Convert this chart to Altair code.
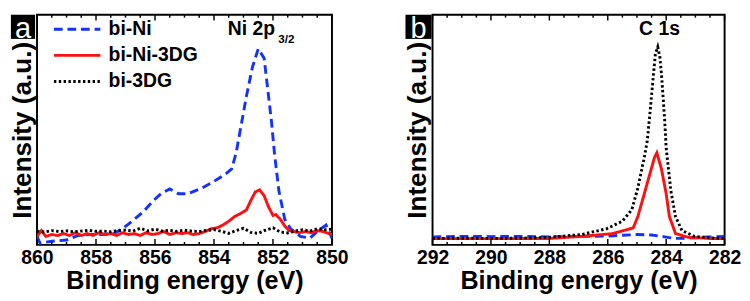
import altair as alt
import pandas as pd

FONT = "Liberation Sans"
SERIES = ["bi-Ni", "bi-Ni-3DG", "bi-3DG"]
COLORS = ["#1432ff", "#ff1010", "#000000"]
DASHES = [[9, 5], [1, 0], [2.5, 2.5]]

# ---------------- panel a : Ni 2p3/2 ----------------
a_ni_E = [860.0, 859.9, 859.5, 859.0, 858.6, 858.2, 857.8, 857.4, 857.1, 856.7, 856.4, 856.05,
          855.8, 855.5, 855.2, 854.9, 854.4, 854.0, 853.6, 853.4, 853.25, 852.9, 852.7, 852.5,
          852.3, 852.05, 851.95, 851.8, 851.6, 851.4, 851.07, 850.75, 850.5, 850.2, 850.0]
a_ni_I = [3.7, 0.8, 1.6, 2.1, 4.1, 4.5, 4.5, 4.9, 7.0, 11.1, 14.4, 19.3,
          22.2, 24.3, 22.2, 22.2, 24.7, 27.6, 30.9, 33.0, 39.9, 64.6, 77.0, 85.2,
          81.1, 53.5, 39.9, 23.5, 11.1, 7.0, 3.7, 2.9, 5.8, 8.6, 2.9]

a_ni3dg_E = [860.0, 859.85, 859.7, 859.5, 859.3, 859.1, 858.9, 858.7, 858.5, 858.3, 858.1, 857.9,
             857.7, 857.5, 857.3, 857.1, 856.9, 856.7, 856.5, 856.3, 856.1, 855.9, 855.7, 855.5,
             855.3, 855.1, 854.9, 854.7, 854.5, 854.3, 854.1, 853.9, 853.7, 853.5, 853.3, 853.1,
             852.9, 852.75, 852.6, 852.45, 852.3, 852.15, 852.0, 851.9, 851.75, 851.6, 851.45,
             851.3, 851.1, 850.9, 850.7, 850.5, 850.3, 850.1, 850.0]
a_ni3dg_I = [3.7, 6.2, 3.7, 4.5, 4.1, 4.9, 4.1, 5.3, 4.1, 4.9, 4.1, 5.3,
             4.5, 4.9, 4.1, 5.3, 4.5, 4.9, 4.1, 5.3, 4.5, 4.9, 5.8, 4.5,
             5.3, 4.9, 5.3, 4.5, 4.9, 5.8, 7.0, 7.4, 8.6, 10.3, 12.3, 13.6,
             15.2, 19.3, 23.0, 23.9, 21.4, 16.5, 12.8, 13.2, 11.1, 8.2, 6.2,
             5.8, 5.3, 5.8, 5.3, 6.2, 5.8, 4.9, 4.5]

a_3dg_E = [860.0, 859.75, 859.5, 859.25, 859.0, 858.75, 858.5, 858.25, 858.0, 857.75, 857.5,
           857.25, 857.0, 856.75, 856.5, 856.25, 856.0, 855.75, 855.5, 855.25, 855.0, 854.75,
           854.5, 854.25, 854.0, 853.75, 853.5, 853.25, 853.0, 852.75, 852.5, 852.25, 852.0,
           851.75, 851.5, 851.25, 851.0, 850.75, 850.5, 850.25, 850.0]
a_3dg_I = [6.0, 5.6, 6.2, 5.8, 6.1, 5.7, 6.0, 6.3, 5.9, 6.0, 5.7,
           6.2, 6.4, 6.0, 7.2, 6.1, 6.8, 6.0, 6.3, 5.9, 6.4, 6.0,
           5.8, 6.3, 6.6, 5.9, 5.0, 6.2, 7.2, 5.4, 5.0, 6.4, 7.4,
           5.6, 5.2, 6.0, 6.6, 6.0, 7.0, 6.6, 6.8]

# ---------------- panel b : C 1s ----------------
b_ni_E = [292.0, 291.0, 290.0, 289.0, 288.0, 287.0, 286.0, 285.5, 285.0, 284.5, 284.0, 283.7,
          283.3, 283.0, 282.6, 282.0]
b_ni_I = [3.5, 3.7, 3.6, 3.7, 3.5, 3.7, 3.8, 4.2, 4.5, 4.3, 3.4, 2.8,
          2.9, 3.1, 3.4, 3.7]

b_ni3dg_E = [292.0, 290.0, 288.0, 286.9, 285.83, 285.13, 284.97, 284.75, 284.54, 284.4, 284.32,
             284.16, 284.0, 283.89, 283.68, 283.25, 282.5, 282.0]
b_ni3dg_I = [2.7, 2.7, 2.8, 3.7, 4.9, 7.4, 12.3, 22.2, 31.7, 38.0, 40.0,
             32.9, 22.2, 12.3, 4.9, 3.3, 2.8, 2.7]

b_3dg_E = [292.0, 291.0, 290.0, 289.0, 287.98, 286.9, 286.04, 285.5, 285.18, 284.97, 284.75,
           284.65, 284.55, 284.45, 284.37, 284.29, 284.22, 284.16, 284.05, 284.0, 283.84, 283.68,
           283.46, 283.03, 282.5, 282.0]
b_3dg_I = [2.8, 2.9, 2.8, 2.9, 3.3, 4.5, 7.0, 10.3, 15.2, 24.7, 38.0,
           45.0, 58.0, 72.0, 83.0, 86.0, 82.0, 74.0, 54.0, 42.0, 23.5, 12.3,
           6.2, 3.7, 3.0, 2.8]

# axis ticks
a_major = [860, 858, 856, 854, 852, 850]
a_minor = [859.5, 859, 858.5, 857.5, 857, 856.5, 855.5, 855, 854.5, 853.5, 853, 852.5, 851.5, 851, 850.5]
b_major = [292, 290, 288, 286, 284, 282]
b_minor = [291.5, 291, 290.5, 289.5, 289, 288.5, 287.5, 287, 286.5, 285.5, 285, 284.5, 283.5, 283, 282.5]

H = 238
YSCALE = alt.Scale(domain=[0, 100], nice=False, zero=False)


def frame(series):
    rows = []
    for name, E, I in series:
        rows += [{"E": e, "I": i, "sample": name} for e, i in zip(E, I)]
    return pd.DataFrame(rows)


def panel(df, domain, major, minor, letter, annots, show_legend, letter_x, W):
    xscale = alt.Scale(domain=domain, nice=False, zero=False)
    x = alt.X("E:Q", scale=xscale,
              axis=alt.Axis(values=major, format="d", ticks=False, tickSize=0, domain=False, grid=False,
                            labelFont=FONT, labelFontSize=20, labelFontWeight="bold",
                            labelColor="black", labelPadding=3, labelFlush=False,
                            title="Binding energy (eV)", titleFont=FONT, titleFontSize=26,
                            titleFontWeight="bold", titleColor="black", titlePadding=1))
    y = alt.Y("I:Q", scale=YSCALE,
              axis=alt.Axis(labels=False, ticks=False, tickSize=0, domain=False, grid=False,
                            title="Intensity (a.u.)", titleFont=FONT, titleFontSize=27,
                            titleFontWeight="bold", titleColor="black", titlePadding=1))
    if show_legend:
        leg = alt.Legend(title=None, orient="none", legendX=16, legendY=5, symbolType="stroke",
                         symbolSize=2304, symbolStrokeWidth=3, clipHeight=20, rowPadding=7,
                         labelFont=FONT, labelFontSize=20, labelFontWeight="bold",
                         labelColor="black", labelOffset=7, padding=0)
    else:
        leg = None
    lines = alt.Chart(df).mark_line(strokeWidth=3, clip=True).encode(
        x=x, y=y,
        color=alt.Color("sample:N", scale=alt.Scale(domain=SERIES, range=COLORS), legend=leg),
        strokeDash=alt.StrokeDash("sample:N", scale=alt.Scale(domain=SERIES, range=DASHES), legend=leg),
    )
    layers = [lines]
    for vals, ln in ((major, 6), (minor, 3)):
        tdf = pd.DataFrame({"E": vals})
        layers.append(alt.Chart(tdf).mark_rule(color="black", strokeWidth=1.5).encode(
            x=alt.X("E:Q", scale=xscale), y=alt.value(H), y2=alt.value(H - ln)))
        layers.append(alt.Chart(tdf).mark_rule(color="black", strokeWidth=1.5).encode(
            x=alt.X("E:Q", scale=xscale), y=alt.value(0), y2=alt.value(ln)))
    for txt, e, i, size, align in annots:
        layers.append(alt.Chart(pd.DataFrame({"E": [e], "I": [i], "t": [txt]})).mark_text(
            font=FONT, fontSize=size, fontWeight="bold", color="black", align=align,
            baseline="alphabetic").encode(x=alt.X("E:Q", scale=xscale), y=alt.Y("I:Q", scale=YSCALE),
                                          text="t:N"))
    one = pd.DataFrame({"t": [letter]})
    layers.append(alt.Chart(one).mark_rect(color="black").encode(
        x=alt.value(letter_x[0]), x2=alt.value(letter_x[1]), y=alt.value(0), y2=alt.value(25)))
    layers.append(alt.Chart(one).mark_text(font=FONT, fontSize=30, color="white", align="center",
                                           baseline="bottom").encode(
        x=alt.value((letter_x[0] + letter_x[1]) / 2), y=alt.value(30), text="t:N"))
    return alt.layer(*layers).properties(width=W, height=H)


df_a = frame([("bi-Ni", a_ni_E, a_ni_I), ("bi-Ni-3DG", a_ni3dg_E, a_ni3dg_I), ("bi-3DG", a_3dg_E, a_3dg_I)])
df_b = frame([("bi-Ni", b_ni_E, b_ni_I), ("bi-Ni-3DG", b_ni3dg_E, b_ni3dg_I), ("bi-3DG", b_3dg_E, b_3dg_I)])

pa = panel(df_a, [860, 850], a_major, a_minor, "a",
           [("Ni 2p", 852.73, 91.0, 20, "center"), ("3/2", 851.82, 87.5, 12, "left")], True, (-27, -2), 305)
pb = panel(df_b, [292, 282], b_major, b_minor, "b",
           [("C 1s", 284.23, 91.0, 20, "center")], False, (-28, -1), 302)

chart = alt.hconcat(pa, pb, spacing=56).resolve_scale(
    color="independent", strokeDash="independent"
).properties(padding=0).configure_view(stroke="black", strokeWidth=2)

chart.save("out.html", embed_options={"renderer": "svg", "actions": False})
